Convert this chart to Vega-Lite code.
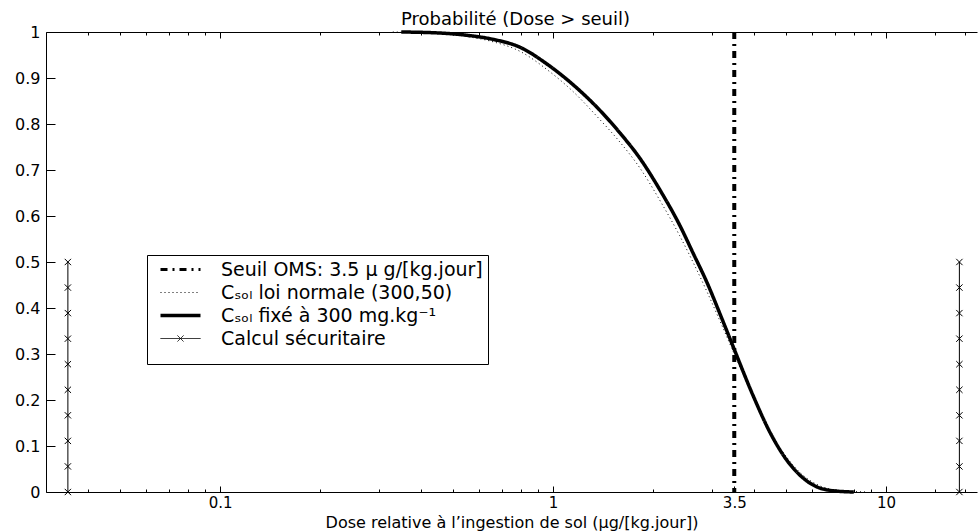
{
  "$schema": "https://vega.github.io/schema/vega-lite/v6.json",
  "width": 931,
  "height": 460,
  "autosize": {"type": "none"},
  "padding": {"left": 46, "top": 32, "right": 1, "bottom": 39},
  "background": "white",
  "config": {
    "view": {"stroke": null},
    "font": "DejaVu Sans",
    "axis": {"grid": false, "domainColor": "black", "tickColor": "black", "labelColor": "black", "titleColor": "black", "domainWidth": 1, "tickWidth": 1, "labelFont": "DejaVu Sans", "titleFont": "DejaVu Sans"},
    "legend": {"labelFont": "DejaVu Sans", "titleFont": "DejaVu Sans"}
  },
  "title": {"text": "Probabilité (Dose > seuil)", "fontSize": 18, "fontWeight": "normal", "font": "DejaVu Sans", "color": "black", "offset": -5, "dx": 4},
  "datasets": {
    "curves": [
      {"s": "Cₛₒₗ loi normale (300,50)", "g": "normale", "x": 0.33, "y": 1.0},
      {"s": "Cₛₒₗ loi normale (300,50)", "g": "normale", "x": 0.45, "y": 0.997},
      {"s": "Cₛₒₗ loi normale (300,50)", "g": "normale", "x": 0.55, "y": 0.99},
      {"s": "Cₛₒₗ loi normale (300,50)", "g": "normale", "x": 0.65, "y": 0.98},
      {"s": "Cₛₒₗ loi normale (300,50)", "g": "normale", "x": 0.8, "y": 0.957},
      {"s": "Cₛₒₗ loi normale (300,50)", "g": "normale", "x": 0.96, "y": 0.918},
      {"s": "Cₛₒₗ loi normale (300,50)", "g": "normale", "x": 1.15, "y": 0.87},
      {"s": "Cₛₒₗ loi normale (300,50)", "g": "normale", "x": 1.36, "y": 0.815},
      {"s": "Cₛₒₗ loi normale (300,50)", "g": "normale", "x": 1.59, "y": 0.76},
      {"s": "Cₛₒₗ loi normale (300,50)", "g": "normale", "x": 1.82, "y": 0.705},
      {"s": "Cₛₒₗ loi normale (300,50)", "g": "normale", "x": 2.1, "y": 0.632},
      {"s": "Cₛₒₗ loi normale (300,50)", "g": "normale", "x": 2.4, "y": 0.557},
      {"s": "Cₛₒₗ loi normale (300,50)", "g": "normale", "x": 2.63, "y": 0.5},
      {"s": "Cₛₒₗ loi normale (300,50)", "g": "normale", "x": 2.9, "y": 0.435},
      {"s": "Cₛₒₗ loi normale (300,50)", "g": "normale", "x": 3.2, "y": 0.365},
      {"s": "Cₛₒₗ loi normale (300,50)", "g": "normale", "x": 3.5, "y": 0.3},
      {"s": "Cₛₒₗ loi normale (300,50)", "g": "normale", "x": 4.0, "y": 0.205},
      {"s": "Cₛₒₗ loi normale (300,50)", "g": "normale", "x": 4.5, "y": 0.13},
      {"s": "Cₛₒₗ loi normale (300,50)", "g": "normale", "x": 5.0, "y": 0.078},
      {"s": "Cₛₒₗ loi normale (300,50)", "g": "normale", "x": 5.6, "y": 0.038},
      {"s": "Cₛₒₗ loi normale (300,50)", "g": "normale", "x": 6.3, "y": 0.014},
      {"s": "Cₛₒₗ loi normale (300,50)", "g": "normale", "x": 7.1, "y": 0.004},
      {"s": "Cₛₒₗ loi normale (300,50)", "g": "normale", "x": 8.0, "y": 0.001},
      {"s": "Cₛₒₗ loi normale (300,50)", "g": "normale", "x": 8.8, "y": 0.0},
      {"s": "Cₛₒₗ fixé à 300 mg.kg⁻¹", "g": "fixe", "x": 0.35, "y": 1.0},
      {"s": "Cₛₒₗ fixé à 300 mg.kg⁻¹", "g": "fixe", "x": 0.45, "y": 0.998},
      {"s": "Cₛₒₗ fixé à 300 mg.kg⁻¹", "g": "fixe", "x": 0.55, "y": 0.993},
      {"s": "Cₛₒₗ fixé à 300 mg.kg⁻¹", "g": "fixe", "x": 0.65, "y": 0.985},
      {"s": "Cₛₒₗ fixé à 300 mg.kg⁻¹", "g": "fixe", "x": 0.8, "y": 0.966},
      {"s": "Cₛₒₗ fixé à 300 mg.kg⁻¹", "g": "fixe", "x": 0.96, "y": 0.93},
      {"s": "Cₛₒₗ fixé à 300 mg.kg⁻¹", "g": "fixe", "x": 1.15, "y": 0.885},
      {"s": "Cₛₒₗ fixé à 300 mg.kg⁻¹", "g": "fixe", "x": 1.36, "y": 0.835},
      {"s": "Cₛₒₗ fixé à 300 mg.kg⁻¹", "g": "fixe", "x": 1.59, "y": 0.78},
      {"s": "Cₛₒₗ fixé à 300 mg.kg⁻¹", "g": "fixe", "x": 1.82, "y": 0.726},
      {"s": "Cₛₒₗ fixé à 300 mg.kg⁻¹", "g": "fixe", "x": 2.1, "y": 0.655},
      {"s": "Cₛₒₗ fixé à 300 mg.kg⁻¹", "g": "fixe", "x": 2.4, "y": 0.58},
      {"s": "Cₛₒₗ fixé à 300 mg.kg⁻¹", "g": "fixe", "x": 2.63, "y": 0.52},
      {"s": "Cₛₒₗ fixé à 300 mg.kg⁻¹", "g": "fixe", "x": 2.9, "y": 0.455},
      {"s": "Cₛₒₗ fixé à 300 mg.kg⁻¹", "g": "fixe", "x": 3.2, "y": 0.38},
      {"s": "Cₛₒₗ fixé à 300 mg.kg⁻¹", "g": "fixe", "x": 3.5, "y": 0.31},
      {"s": "Cₛₒₗ fixé à 300 mg.kg⁻¹", "g": "fixe", "x": 4.0, "y": 0.207},
      {"s": "Cₛₒₗ fixé à 300 mg.kg⁻¹", "g": "fixe", "x": 4.5, "y": 0.127},
      {"s": "Cₛₒₗ fixé à 300 mg.kg⁻¹", "g": "fixe", "x": 5.0, "y": 0.072},
      {"s": "Cₛₒₗ fixé à 300 mg.kg⁻¹", "g": "fixe", "x": 5.6, "y": 0.032},
      {"s": "Cₛₒₗ fixé à 300 mg.kg⁻¹", "g": "fixe", "x": 6.3, "y": 0.009},
      {"s": "Cₛₒₗ fixé à 300 mg.kg⁻¹", "g": "fixe", "x": 7.1, "y": 0.002},
      {"s": "Cₛₒₗ fixé à 300 mg.kg⁻¹", "g": "fixe", "x": 8.0, "y": 0.0}
    ],
    "verticals": [
      {"s": "Seuil OMS: 3.5 µ g/[kg.jour]", "g": "seuil", "x": 3.5, "y": 1},
      {"s": "Seuil OMS: 3.5 µ g/[kg.jour]", "g": "seuil", "x": 3.5, "y": 0},
      {"s": "Calcul sécuritaire", "g": "calcL", "x": 0.0349, "y": 0.5},
      {"s": "Calcul sécuritaire", "g": "calcL", "x": 0.0349, "y": 0},
      {"s": "Calcul sécuritaire", "g": "calcR", "x": 16.6, "y": 0.5},
      {"s": "Calcul sécuritaire", "g": "calcR", "x": 16.6, "y": 0}
    ],
    "markers": [
      {"x": 0.0349, "y": 0}, {"x": 0.0349, "y": 0.0556}, {"x": 0.0349, "y": 0.1111}, {"x": 0.0349, "y": 0.1667}, {"x": 0.0349, "y": 0.2222},
      {"x": 0.0349, "y": 0.2778}, {"x": 0.0349, "y": 0.3333}, {"x": 0.0349, "y": 0.3889}, {"x": 0.0349, "y": 0.4444}, {"x": 0.0349, "y": 0.5},
      {"x": 16.6, "y": 0}, {"x": 16.6, "y": 0.0556}, {"x": 16.6, "y": 0.1111}, {"x": 16.6, "y": 0.1667}, {"x": 16.6, "y": 0.2222},
      {"x": 16.6, "y": 0.2778}, {"x": 16.6, "y": 0.3333}, {"x": 16.6, "y": 0.3889}, {"x": 16.6, "y": 0.4444}, {"x": 16.6, "y": 0.5}
    ]
  },
  "layer": [
    {
      "data": {"name": "curves"},
      "mark": {"type": "line", "color": "black", "strokeCap": "butt", "strokeJoin": "round", "interpolate": "monotone"},
      "encoding": {
        "x": {
          "field": "x", "type": "quantitative",
          "scale": {"type": "log", "domain": [0.03, 18.75], "nice": false},
          "axis": {
            "orient": "bottom",
            "values": [0.04, 0.05, 0.06, 0.07, 0.08, 0.09, 0.1, 0.2, 0.3, 0.4, 0.5, 0.6, 0.7, 0.8, 0.9, 1, 2, 3, 3.5, 4, 5, 6, 7, 8, 9, 10, 14, 17.2],
            "labelExpr": "datum.value == 0.1 ? '0.1' : datum.value == 1 ? '1' : datum.value == 3.5 ? '3.5' : datum.value == 10 ? '10' : ''",
            "tickSize": {"condition": {"test": "indexof([0.1, 1, 3.5, 10], datum.value) >= 0", "value": -6}, "value": -3},
            "labelFontSize": 15,
            "labelPadding": 9,
            "labelFlush": false,
            "labelOverlap": false,
            "title": "Dose relative à l’ingestion de sol (µg/[kg.jour])",
            "titleFontSize": 16,
            "titleFontWeight": "normal",
            "titlePadding": 1
          }
        },
        "y": {
          "field": "y", "type": "quantitative",
          "scale": {"domain": [0, 1], "nice": false},
          "axis": {
            "orient": "left",
            "values": [0, 0.1, 0.2, 0.3, 0.4, 0.5, 0.6, 0.7, 0.8, 0.9, 1],
            "labelExpr": "format(datum.value, '.1~f')",
            "tickSize": -9,
            "labelFontSize": 16,
            "labelPadding": 15,
            "title": null
          }
        },
        "detail": {"field": "g", "type": "nominal"},
        "order": {"field": "y", "sort": "descending"},
        "strokeDash": {
          "field": "s", "type": "nominal",
          "scale": {
            "domain": ["Seuil OMS: 3.5 µ g/[kg.jour]", "Cₛₒₗ loi normale (300,50)", "Cₛₒₗ fixé à 300 mg.kg⁻¹", "Calcul sécuritaire"],
            "range": [[7, 5, 2, 5], [1, 3], [1, 0], [1, 0]]
          },
          "legend": {
            "orient": "none", "legendX": 101, "legendY": 223,
            "title": " ", "titleOrient": "bottom", "titleFontSize": 8, "titlePadding": 2,
            "strokeColor": "black", "fillColor": "white", "padding": 5,
            "labelFontSize": 19, "labelColor": "black", "labelLimit": 700,
            "symbolSize": 400, "symbolStrokeColor": "black",
            "symbolOffset": 19,
            "rowPadding": 3, "labelOffset": 31,
            "encode": {
              "symbols": {
                "update": {
                  "shape": {"signal": "datum.value === 'Calcul sécuritaire' ? 'M-2,0L2,0M-0.3,-0.3L0.3,0.3M0.3,-0.3L-0.3,0.3' : 'M-2,0L2,0'"},
                  "strokeWidth": {"signal": "datum.value === 'Cₛₒₗ fixé à 300 mg.kg⁻¹' ? 3.5 : datum.value === 'Seuil OMS: 3.5 µ g/[kg.jour]' ? 3 : 1"},
                  "fill": {"value": "transparent"},
                  "stroke": {"value": "black"}
                }
              }
            }
          }
        },
        "strokeWidth": {
          "field": "s", "type": "nominal",
          "scale": {
            "type": "ordinal",
            "domain": ["Seuil OMS: 3.5 µ g/[kg.jour]", "Cₛₒₗ loi normale (300,50)", "Cₛₒₗ fixé à 300 mg.kg⁻¹", "Calcul sécuritaire"],
            "range": [3, 1, 3.5, 1]
          },
          "legend": null
        }
      }
    },
    {
      "data": {"name": "verticals"},
      "mark": {"type": "line", "color": "black", "strokeCap": "butt"},
      "encoding": {
        "x": {"field": "x", "type": "quantitative", "axis": null},
        "y": {"field": "y", "type": "quantitative"},
        "detail": {"field": "g", "type": "nominal"},
        "order": {"field": "y", "sort": "descending"},
        "strokeDash": {"field": "s", "type": "nominal"},
        "strokeWidth": {"field": "s", "type": "nominal", "legend": null}
      }
    },
    {
      "data": {"name": "markers"},
      "mark": {"type": "point", "shape": "M-1,-1L1,1M1,-1L-1,1", "filled": false, "stroke": "black", "strokeWidth": 1, "size": 40, "opacity": 1},
      "encoding": {
        "x": {
          "field": "x", "type": "quantitative",
          "axis": {
            "orient": "top",
            "values": [0.04, 0.05, 0.06, 0.07, 0.08, 0.09, 0.1, 0.2, 0.3, 0.4, 0.5, 0.6, 0.7, 0.8, 0.9, 1, 2, 3, 3.5, 4, 5, 6, 7, 8, 9, 10, 14, 17.2],
            "labels": false,
            "tickSize": {"condition": {"test": "indexof([0.1, 1, 3.5, 10], datum.value) >= 0", "value": -6}, "value": -3},
            "title": null
          }
        },
        "y": {"field": "y", "type": "quantitative"}
      }
    }
  ],
  "resolve": {"axis": {"x": "independent"}}
}
